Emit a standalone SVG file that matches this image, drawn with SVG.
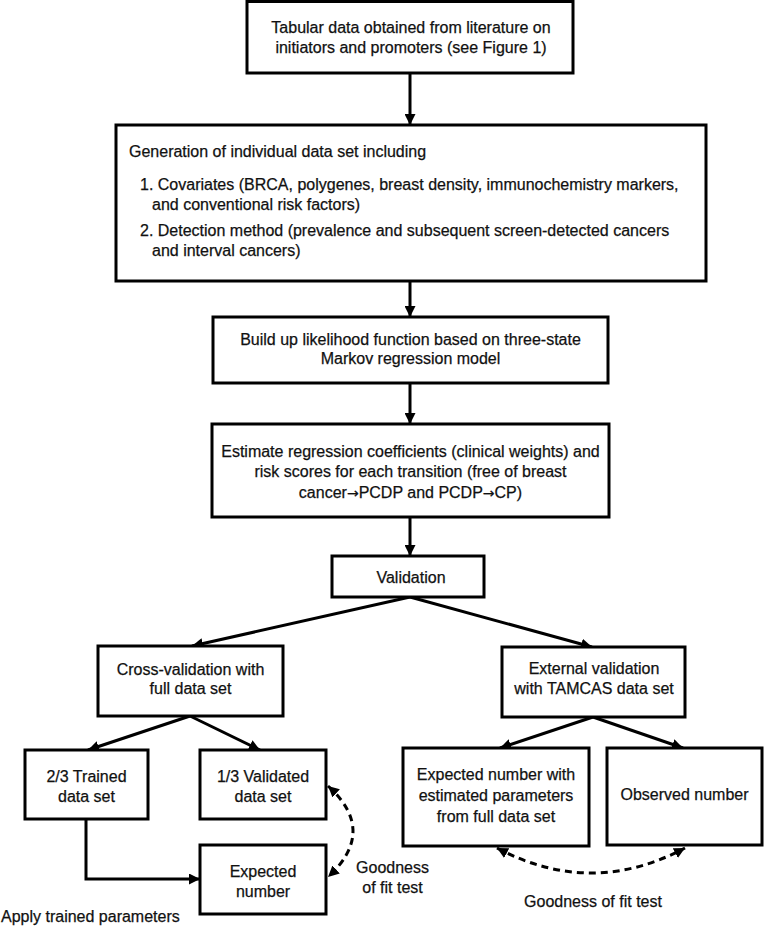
<svg xmlns="http://www.w3.org/2000/svg" width="765" height="927" viewBox="0 0 765 927">
<style>
.box{fill:#fff;stroke:#000;stroke-width:3}
.t{font-family:"Liberation Sans",Arial,sans-serif;font-size:16px;fill:#111;stroke:#111;stroke-width:0.25}
.c{text-anchor:middle}
.ar{font-family:"DejaVu Sans",sans-serif;font-size:14px}
.ln{fill:none;stroke:#000;stroke-width:3}
.dash{fill:none;stroke:#000;stroke-width:3;stroke-dasharray:7 5}
</style>
<defs>
<marker id="ah" viewBox="0 0 10 10" refX="10" refY="5" markerWidth="11" markerHeight="11" markerUnits="userSpaceOnUse" orient="auto-start-reverse">
<path d="M0,0 L10,5 L0,10 z" fill="#000"/>
</marker>
</defs>
<g id="connectors">
<line class="ln" x1="410" y1="73" x2="410" y2="125" marker-end="url(#ah)"/>
<line class="ln" x1="410" y1="281" x2="410" y2="317" marker-end="url(#ah)"/>
<line class="ln" x1="410" y1="383" x2="410" y2="424" marker-end="url(#ah)"/>
<line class="ln" x1="410" y1="517" x2="410" y2="556" marker-end="url(#ah)"/>
<line class="ln" x1="410" y1="597" x2="192" y2="646" marker-end="url(#ah)"/>
<line class="ln" x1="410" y1="597" x2="592" y2="647" marker-end="url(#ah)"/>
<line class="ln" x1="190" y1="716" x2="88" y2="750" marker-end="url(#ah)"/>
<line class="ln" x1="190" y1="716" x2="260" y2="750" marker-end="url(#ah)"/>
<line class="ln" x1="593" y1="717" x2="500" y2="748" marker-end="url(#ah)"/>
<line class="ln" x1="593" y1="717" x2="683" y2="748" marker-end="url(#ah)"/>
<polyline class="ln" points="86,819 86,879 200,879" marker-end="url(#ah)"/>
<path class="dash" d="M328,786 Q378,831 328,877" marker-start="url(#ah)" marker-end="url(#ah)"/>
<path class="dash" d="M497,848 Q591,898 685,848" marker-start="url(#ah)" marker-end="url(#ah)"/>
</g>
<g id="n1">
<rect class="box" x="247" y="1.5" width="326" height="71.5"/>
<text class="t c" x="411" y="33">Tabular data obtained from literature on</text>
<text class="t c" x="411" y="53">initiators and promoters (see Figure 1)</text>
</g>
<g id="n2">
<rect class="box" x="116" y="125" width="590" height="156"/>
<text class="t" x="129" y="157">Generation of individual data set including</text>
<text class="t" x="140" y="190">1. Covariates (BRCA, polygenes, breast density, immunochemistry markers,</text>
<text class="t" x="152" y="210">and conventional risk factors)</text>
<text class="t" x="140" y="236">2. Detection method (prevalence and subsequent screen-detected cancers</text>
<text class="t" x="152" y="256">and interval cancers)</text>
</g>
<g id="n3">
<rect class="box" x="213" y="317" width="395" height="66"/>
<text class="t c" x="410.5" y="345">Build up likelihood function based on three-state</text>
<text class="t c" x="410.5" y="364">Markov regression model</text>
</g>
<g id="n4">
<rect class="box" x="212" y="424" width="397" height="93"/>
<text class="t c" x="410.5" y="457">Estimate regression coefficients (clinical weights) and</text>
<text class="t c" x="410.5" y="477">risk scores for each transition (free of breast</text>
<text class="t c" x="410.5" y="498">cancer<tspan class="ar">→</tspan>PCDP and PCDP<tspan class="ar">→</tspan>CP)</text>
</g>
<g id="n5">
<rect class="box" x="332" y="556" width="152" height="41"/>
<text class="t c" x="411" y="583">Validation</text>
</g>
<g id="n6">
<rect class="box" x="98" y="646" width="185" height="70"/>
<text class="t c" x="190.5" y="675">Cross-validation with</text>
<text class="t c" x="190.5" y="694">full data set</text>
</g>
<g id="n7">
<rect class="box" x="502" y="647" width="183" height="70"/>
<text class="t c" x="594" y="674">External validation</text>
<text class="t c" x="594" y="694">with TAMCAS data set</text>
</g>
<g id="n8">
<rect class="box" x="25" y="750" width="123" height="69"/>
<text class="t c" x="86.5" y="782">2/3 Trained</text>
<text class="t c" x="86.5" y="802">data set</text>
</g>
<g id="n9">
<rect class="box" x="200" y="750" width="126" height="69"/>
<text class="t c" x="263" y="782">1/3 Validated</text>
<text class="t c" x="263" y="802">data set</text>
</g>
<g id="n10">
<rect class="box" x="200" y="845" width="126" height="69"/>
<text class="t c" x="263" y="877">Expected</text>
<text class="t c" x="263" y="897">number</text>
</g>
<g id="n11">
<rect class="box" x="403" y="748" width="186" height="98"/>
<text class="t c" x="496" y="780">Expected number with</text>
<text class="t c" x="496" y="801">estimated parameters</text>
<text class="t c" x="496" y="822">from full data set</text>
</g>
<g id="n12">
<rect class="box" x="607" y="748" width="155" height="97"/>
<text class="t c" x="684.5" y="800">Observed number</text>
</g>
<g id="labels">
<text class="t c" x="392.5" y="873">Goodness</text>
<text class="t c" x="392.5" y="893">of fit test</text>
<text class="t c" x="593" y="907">Goodness of fit test</text>
<text class="t" x="1" y="922">Apply trained parameters</text>
</g>
</svg>
